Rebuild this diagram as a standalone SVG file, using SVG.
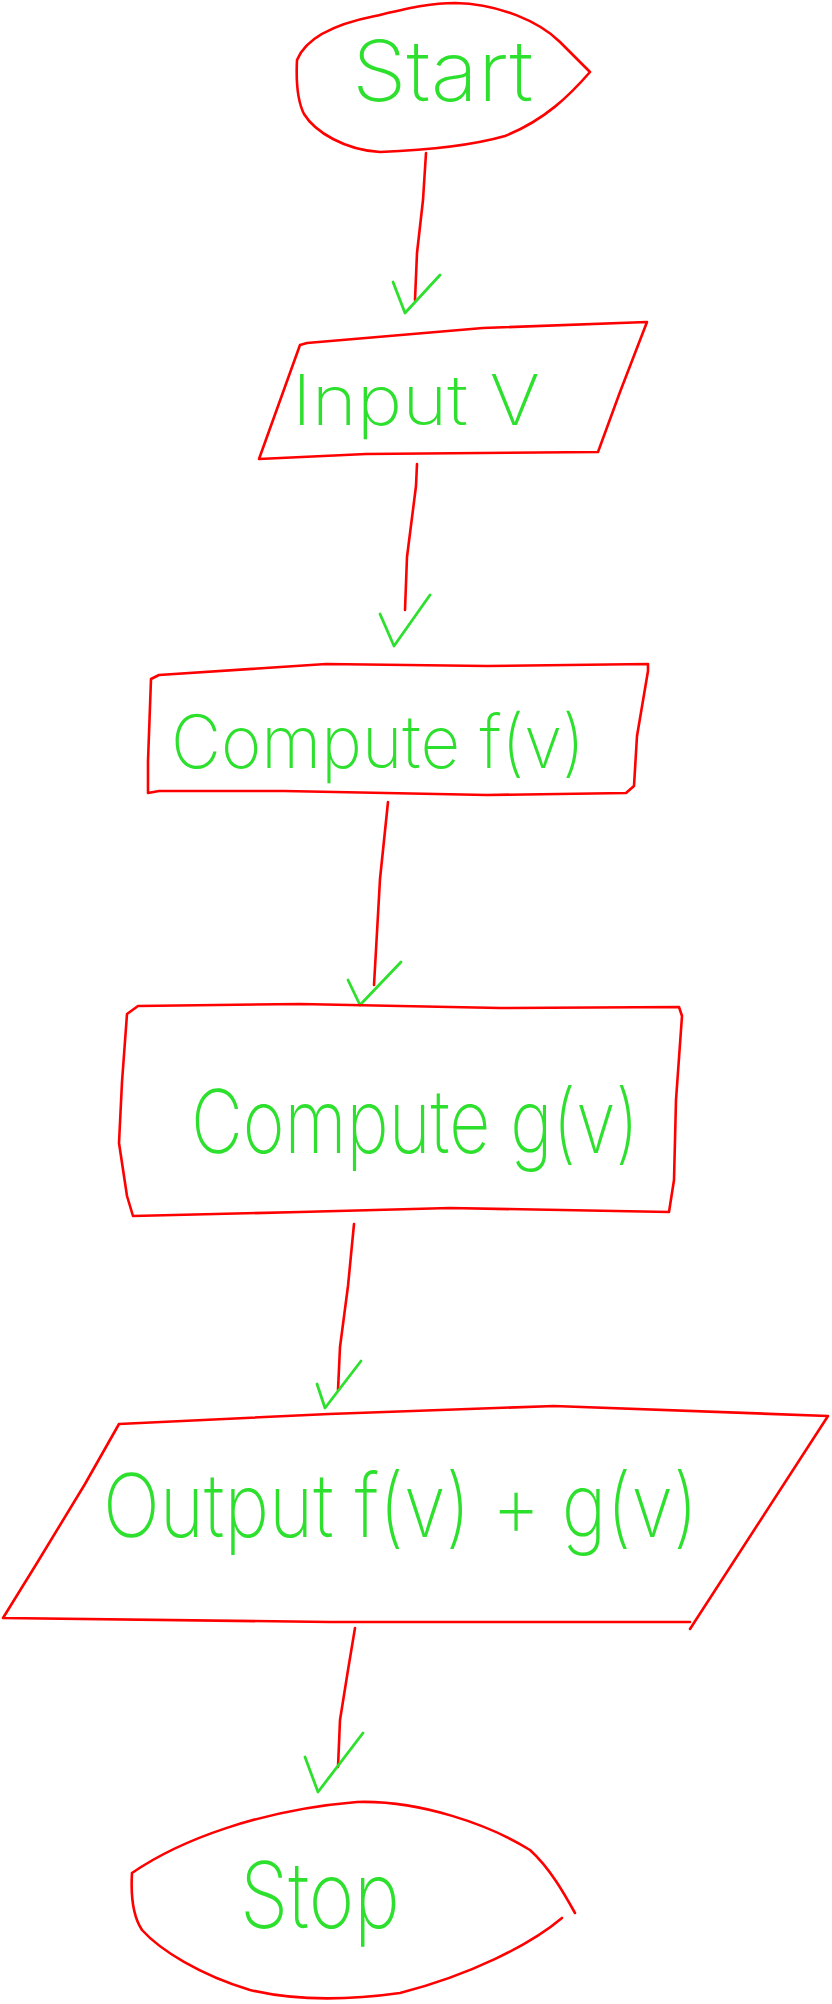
<svg xmlns="http://www.w3.org/2000/svg" width="832" height="2004" viewBox="0 0 832 2004">
<style>
.shape{fill:none;stroke:#f00;stroke-width:2.6;stroke-linejoin:round;stroke-linecap:round}
.line{fill:none;stroke:#f00;stroke-width:2.6;stroke-linejoin:round;stroke-linecap:round}
.head{fill:none;stroke:#2de02d;stroke-width:2.8;stroke-linejoin:round;stroke-linecap:round}
.lbl{fill:#2de02d;font-family:Inter,"Liberation Sans",sans-serif;font-weight:150}
</style>
<rect width="832" height="2004" fill="#fff"/>
<g id="connectors">
<path class="line" d="M426,153 L423,200 L417,253 L415,300"/>
<path class="head" d="M393,282 L405,313 L440,275"/>
<path class="line" d="M417,464 L416,486 L407,557 L405,610"/>
<path class="head" d="M380,614 L394,646 L430,595"/>
<path class="line" d="M388,802 L380,879 L376,950 L374,985"/>
<path class="head" d="M348,980 L360,1005 L401,962"/>
<path class="line" d="M354,1224 L348,1286 L340,1347 L338,1390"/>
<path class="head" d="M317,1384 L325,1408 L361,1361"/>
<path class="line" d="M355,1628 L348,1670 L340,1720 L338,1767"/>
<path class="head" d="M305,1757 L318,1792 L363,1733"/>
</g>
<g id="start">
<path class="shape" d="M297,60 C305,40 330,25 375,16 C410,8 430,3 455,3 C500,4 540,22 560,42 L590,72 C570,95 545,120 505,136 C470,146 430,150 380,152 C345,150 315,132 304,114 C297,100 296,80 297,60 Z"/>
<text class="lbl" x="352" y="101" font-size="84" textLength="181" lengthAdjust="spacingAndGlyphs">Start</text>
</g>
<g id="input">
<path class="shape" d="M307,343 L483,328 L647,322 L620,392 L598,452 L366,454 L259,459 L300,345 Z"/>
<text class="lbl" x="292" y="425" font-size="70" textLength="248" lengthAdjust="spacingAndGlyphs">Input V</text>
</g>
<g id="computef">
<path class="shape" d="M151,679 L159,675 L326,664 L487,666 L648,664 L648,671 L637,736 L634,786 L626,793 L487,795 L284,791 L159,791 L148,793 L148,761 Z"/>
<text class="lbl" x="171" y="768" font-size="74" textLength="414" lengthAdjust="spacingAndGlyphs">Compute f(v)</text>
</g>
<g id="computeg">
<path class="shape" d="M127,1014 L138,1006 L300,1004 L500,1008 L679,1007 L682,1016 L676,1100 L674,1180 L669,1212 L450,1208 L300,1212 L133,1216 L127,1196 L119,1143 L122,1082 Z"/>
<text class="lbl" x="191" y="1153" font-size="88" textLength="448" lengthAdjust="spacingAndGlyphs">Compute g(v)</text>
</g>
<g id="output">
<path class="shape" d="M119,1424 L329,1414 L554,1406 L828,1416 L690,1629 M690,1622 L330,1622 L3,1618 L37,1563 L85,1484 L119,1424"/>
<text class="lbl" x="103" y="1537" font-size="88" textLength="595" lengthAdjust="spacingAndGlyphs">Output f(v) + g(v)</text>
</g>
<g id="stop">
<path class="shape" d="M132,1873 C180,1840 260,1810 357,1802 C420,1800 490,1825 530,1850 C550,1868 565,1895 575,1913 M562,1918 C530,1945 470,1975 400,1993 C350,2000 300,2002 250,1990 C200,1975 160,1950 142,1930 C132,1915 131,1890 132,1873"/>
<text class="lbl" x="240" y="1928" font-size="92" textLength="160" lengthAdjust="spacingAndGlyphs">Stop</text>
</g>
</svg>
